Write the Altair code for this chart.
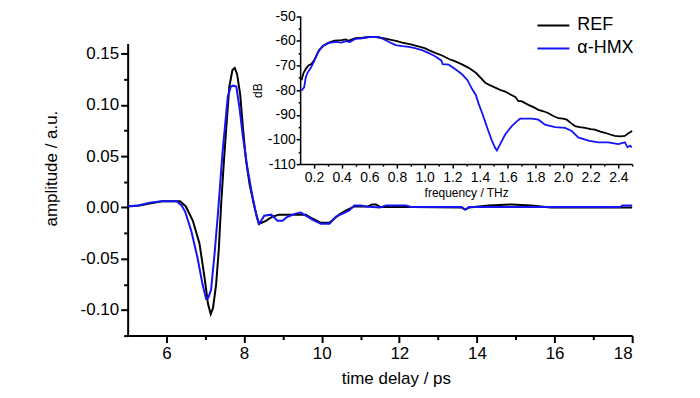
import altair as alt
import pandas as pd

# ---------------- data ----------------
# main panel: time-domain waveforms
t_ref = [5.0, 5.3, 5.6, 5.9, 6.35, 6.5, 6.68, 6.85, 6.98, 7.07, 7.14, 7.2, 7.28, 7.35, 7.41, 7.48,
         7.54, 7.62, 7.7, 7.76, 7.82, 7.9, 7.97, 8.05, 8.14, 8.27, 8.38, 8.45, 8.56, 8.73, 8.9, 9.33,
         9.59, 9.77, 9.98, 10.2, 10.32, 10.45, 10.62, 10.84, 11.2, 11.3, 11.4, 11.5, 12.3, 13.6,
         13.7, 13.8, 14.3, 14.9, 15.4, 15.9, 18.0]
a_ref = [0.001, 0.002, 0.004, 0.006, 0.006, 0.001, -0.013, -0.035, -0.068, -0.094, -0.104, -0.098,
         -0.075, -0.04, 0.004, 0.045, 0.077, 0.118, 0.134, 0.136, 0.13, 0.11, 0.078, 0.046, 0.023,
         0.0, -0.016, -0.015, -0.013, -0.009, -0.007, -0.007, -0.007, -0.011, -0.015, -0.015,
         -0.011, -0.007, -0.003, 0.001, 0.001, 0.003, 0.003, 0.0005, 0.0005, 0.0, -0.002, 0.0,
         0.002, 0.003, 0.002, 0.0, 0.0]

t_hmx = [5.0, 5.27, 5.57, 5.87, 6.26, 6.39, 6.48, 6.64, 6.8, 6.93, 7.02, 7.08, 7.15, 7.24, 7.32,
         7.45, 7.58, 7.66, 7.72, 7.8, 7.88, 7.97, 8.08, 8.2, 8.33, 8.39, 8.52, 8.7, 8.86, 8.99,
         9.12, 9.33, 9.46, 9.59, 9.77, 9.98, 10.2, 10.37, 10.54, 10.71, 10.84, 11.0, 11.14, 11.5,
         11.66, 12.17, 12.3, 13.6, 13.7, 13.8, 17.7, 17.75, 18.0]
a_hmx = [0.0013, 0.002, 0.0045, 0.006, 0.006, 0.002, -0.004, -0.023, -0.049, -0.075, -0.089,
         -0.088, -0.08, -0.045, -0.009, 0.056, 0.108, 0.118, 0.119, 0.118, 0.098, 0.069, 0.04,
         0.014, -0.01, -0.016, -0.008, -0.007, -0.013, -0.013, -0.009, -0.006, -0.005, -0.008,
         -0.012, -0.016, -0.016, -0.009, -0.006, -0.003, 0.002, 0.002, 0.001, 0.0, 0.002, 0.002,
         0.0005, 0.0005, -0.002, 0.0005, 0.0005, 0.002, 0.002]

# inset: spectra
f_ref = [0.11, 0.125, 0.14, 0.16, 0.18, 0.2, 0.215, 0.237, 0.26, 0.273, 0.3, 0.321, 0.35, 0.4,
         0.43, 0.45, 0.5, 0.55, 0.6, 0.645, 0.7, 0.741, 0.8, 0.837, 0.9, 0.934, 1.0, 1.03, 1.08,
         1.126, 1.18, 1.222, 1.27, 1.318, 1.37, 1.414, 1.438, 1.47, 1.51, 1.55, 1.582, 1.62,
         1.655, 1.678, 1.7, 1.75, 1.79, 1.822, 1.86, 1.895, 1.93, 1.967, 2.0, 2.027, 2.06, 2.087,
         2.12, 2.16, 2.2, 2.23, 2.27, 2.303, 2.34, 2.375, 2.41, 2.447, 2.47, 2.5]
db_ref = [-76, -73, -71.5, -70, -69.5, -68, -66.4, -63.8, -62.5, -61.8, -61, -60.5, -60, -59.8,
          -59.5, -60, -59, -58.8, -58.5, -58.5, -59, -59.5, -60.2, -60.8, -61.5, -62, -63, -63.8,
          -65, -66, -67.5, -68.4, -69.6, -71, -73, -75.6, -77, -78, -79, -80, -80.6, -81.8, -82.8,
          -84.5, -84.5, -86, -87, -88, -88.6, -89.4, -90.5, -91.4, -91.6, -92, -93.5, -94.6, -95,
          -95.3, -95.8, -96, -96.8, -97.3, -98, -98.6, -98.8, -98.6, -97.6, -96.6]

f_hmx = [0.109, 0.129, 0.14, 0.153, 0.177, 0.201, 0.225, 0.261, 0.309, 0.357, 0.4, 0.429, 0.46,
         0.5, 0.55, 0.597, 0.669, 0.718, 0.76, 0.79, 0.84, 0.886, 0.93, 0.981, 1.03, 1.078, 1.12,
         1.13, 1.174, 1.22, 1.27, 1.31, 1.342, 1.37, 1.39, 1.42, 1.438, 1.46, 1.486, 1.51, 1.522,
         1.546, 1.582, 1.61, 1.63, 1.666, 1.69, 1.774, 1.822, 1.87, 1.943, 2.015, 2.063, 2.11,
         2.183, 2.255, 2.327, 2.4, 2.447, 2.467, 2.485, 2.497]
db_hmx = [-80.2, -78.9, -75, -73, -71, -68.4, -65.1, -62.2, -60.9, -60.5, -60.8, -60.2, -60.5,
          -59.2, -59, -58.5, -58.5, -59.8, -61, -61.8, -62.2, -62.5, -63, -63.8, -65, -66.4, -68,
          -69.5, -69.7, -71.5, -73.6, -76, -79.5, -82, -85.5, -90, -93, -96.5, -100.5, -103.5,
          -104.5, -101.9, -98, -96, -94.6, -92.7, -91.6, -91.6, -92, -94, -95, -95.3, -96.6, -99.2,
          -100.5, -101.2, -101.2, -101.9, -101.2, -103.2, -102.5, -103.2]

series_names = ["REF", "α-HMX"]
series_colors = ["#000000", "#1414f5"]

main_x_ticks = [6, 7, 8, 9, 10, 11, 12, 13, 14, 15, 16, 17, 18]
main_y_ticks = [-0.125, -0.1, -0.075, -0.05, -0.025, 0.0, 0.025, 0.05, 0.075, 0.1, 0.125, 0.15]
inset_x_ticks = [0.2, 0.3, 0.4, 0.5, 0.6, 0.7, 0.8, 0.9, 1.0, 1.1, 1.2, 1.3, 1.4, 1.5, 1.6, 1.7,
                 1.8, 1.9, 2.0, 2.1, 2.2, 2.3, 2.4, 2.5]
inset_y_ticks = [-110, -105, -100, -95, -90, -85, -80, -75, -70, -65, -60, -55, -50]

# ---------------- layout ----------------
PAD_TOP = 5
W, H = 506, 336 - 8 - PAD_TOP
FONT = "Liberation Sans"
INSET_X0, INSET_X1 = 173, 506
INSET_Y0, INSET_Y1 = 164 - 8 - PAD_TOP, 15.5 - 8 - PAD_TOP
MAIN_TOP = 43 - 8 - PAD_TOP

main_ref_df = pd.DataFrame({"t": t_ref, "a": a_ref, "series": series_names[0]})
main_hmx_df = pd.DataFrame({"t": t_hmx, "a": a_hmx, "series": series_names[1]})
ins_ref_df = pd.DataFrame({"f": f_ref, "db": db_ref, "series": series_names[0]})
ins_hmx_df = pd.DataFrame({"f": f_hmx, "db": db_hmx, "series": series_names[1]})

color = alt.Color(
    "series:N",
    scale=alt.Scale(domain=series_names, range=series_colors),
    legend=alt.Legend(
        title=None, orient="none", legendX=418, legendY=3, padding=0,
        symbolType="M-3.2,0H3.2", symbolSize=100, symbolStrokeWidth=2,
        labelFont=FONT, labelFontSize=18, labelColor="black", labelOffset=15,
        rowPadding=5,
    ),
)

minus_fix = "replace(format(datum.value, '{fmt}'), '\u2212', '-')"

main_x = alt.X(
    "t:Q",
    scale=alt.Scale(domain=[5, 18], nice=False, zero=False),
    axis=alt.Axis(
        values=main_x_ticks, title="time delay / ps", grid=False,
        labelExpr="datum.value % 2 === 0 ? format(datum.value, 'd') : ''",
        tickSize={"condition": {"test": "datum.value % 2 === 0", "value": 7}, "value": 4},
        tickWidth=2, domainWidth=2, domainColor="black", tickColor="black",
        labelFont=FONT, labelFontSize=17, labelColor="black", labelPadding=3,
        titleFont=FONT, titleFontSize=17, titleFontWeight="normal", titleColor="black",
        titlePadding=9, titleX=W / 2 + 16,
    ),
)
main_y = alt.Y(
    "a:Q",
    scale=alt.Scale(domain=[-0.125, 0.16], range=[H, MAIN_TOP], nice=False, zero=False),
    axis=alt.Axis(
        values=main_y_ticks, title="amplitude / a.u.", grid=False,
        labelExpr="abs(datum.value*20 - round(datum.value*20)) < 1e-6 ? "
                  + minus_fix.format(fmt=".2f") + " : ''",
        tickSize={"condition": {"test": "abs(datum.value*20 - round(datum.value*20)) < 1e-6",
                                "value": 7}, "value": 4},
        tickWidth=2, domainWidth=2, domainColor="black", tickColor="black",
        labelFont=FONT, labelFontSize=17, labelColor="black", labelPadding=2,
        titleFont=FONT, titleFontSize=17, titleFontWeight="normal", titleColor="black",
        titlePadding=20, titleY=168 - 8 - PAD_TOP,
    ),
)

ins_x = alt.X(
    "f:Q",
    scale=alt.Scale(domain=[0.1, 2.5], range=[INSET_X0, INSET_X1], nice=False, zero=False),
    axis=alt.Axis(
        orient="bottom", offset=INSET_Y0 - H, values=inset_x_ticks,
        title="frequency / THz", grid=False,
        labelExpr="round(datum.value*10) % 2 === 0 ? format(datum.value, '.1f') : ''",
        tickSize={"condition": {"test": "round(datum.value*10) % 2 === 0", "value": 4},
                  "value": 2},
        tickWidth=1.5, domainWidth=1.5, domainColor="black", tickColor="black",
        labelFont=FONT, labelFontSize=14, labelColor="black", labelPadding=2,
        titleFont=FONT, titleFontSize=12, titleFontWeight="normal", titleColor="black",
        titlePadding=3,
    ),
)
ins_y = alt.Y(
    "db:Q",
    scale=alt.Scale(domain=[-110, -50], range=[INSET_Y0, INSET_Y1], nice=False, zero=False),
    axis=alt.Axis(
        orient="left", offset=-INSET_X0, values=inset_y_ticks,
        title="dB", grid=False,
        labelExpr="datum.value % 10 === 0 ? " + minus_fix.format(fmt="d") + " : ''",
        tickSize={"condition": {"test": "datum.value % 10 === 0", "value": 4}, "value": 2},
        tickWidth=1.5, domainWidth=1.5, domainColor="black", tickColor="black",
        labelFont=FONT, labelFontSize=14, labelColor="black", labelPadding=1,
        titleFont=FONT, titleFontSize=12, titleFontWeight="normal", titleColor="black",
        titlePadding=3,
    ),
)

main_ref = alt.Chart(main_ref_df).mark_line(strokeWidth=2).encode(x=main_x, y=main_y, color=color)
main_hmx = alt.Chart(main_hmx_df).mark_line(strokeWidth=2).encode(x=main_x, y=main_y, color=color)
ins_ref = alt.Chart(ins_ref_df).mark_line(strokeWidth=1.8).encode(x=ins_x, y=ins_y, color=color)
ins_hmx = alt.Chart(ins_hmx_df).mark_line(strokeWidth=1.8).encode(x=ins_x, y=ins_y, color=color)

main = alt.layer(main_ref, main_hmx)
inset = alt.layer(ins_ref, ins_hmx)

chart = (
    alt.layer(main, inset)
    .resolve_scale(x="independent", y="independent")
    .properties(
        width=W, height=H,
        padding={"left": 120, "top": PAD_TOP, "right": 60, "bottom": 55},
        autosize=alt.AutoSizeParams(type="none"),
        background="white",
    )
    .configure_view(stroke=None)
)

chart.save("out.html", embed_options={"renderer": "svg", "actions": False})
